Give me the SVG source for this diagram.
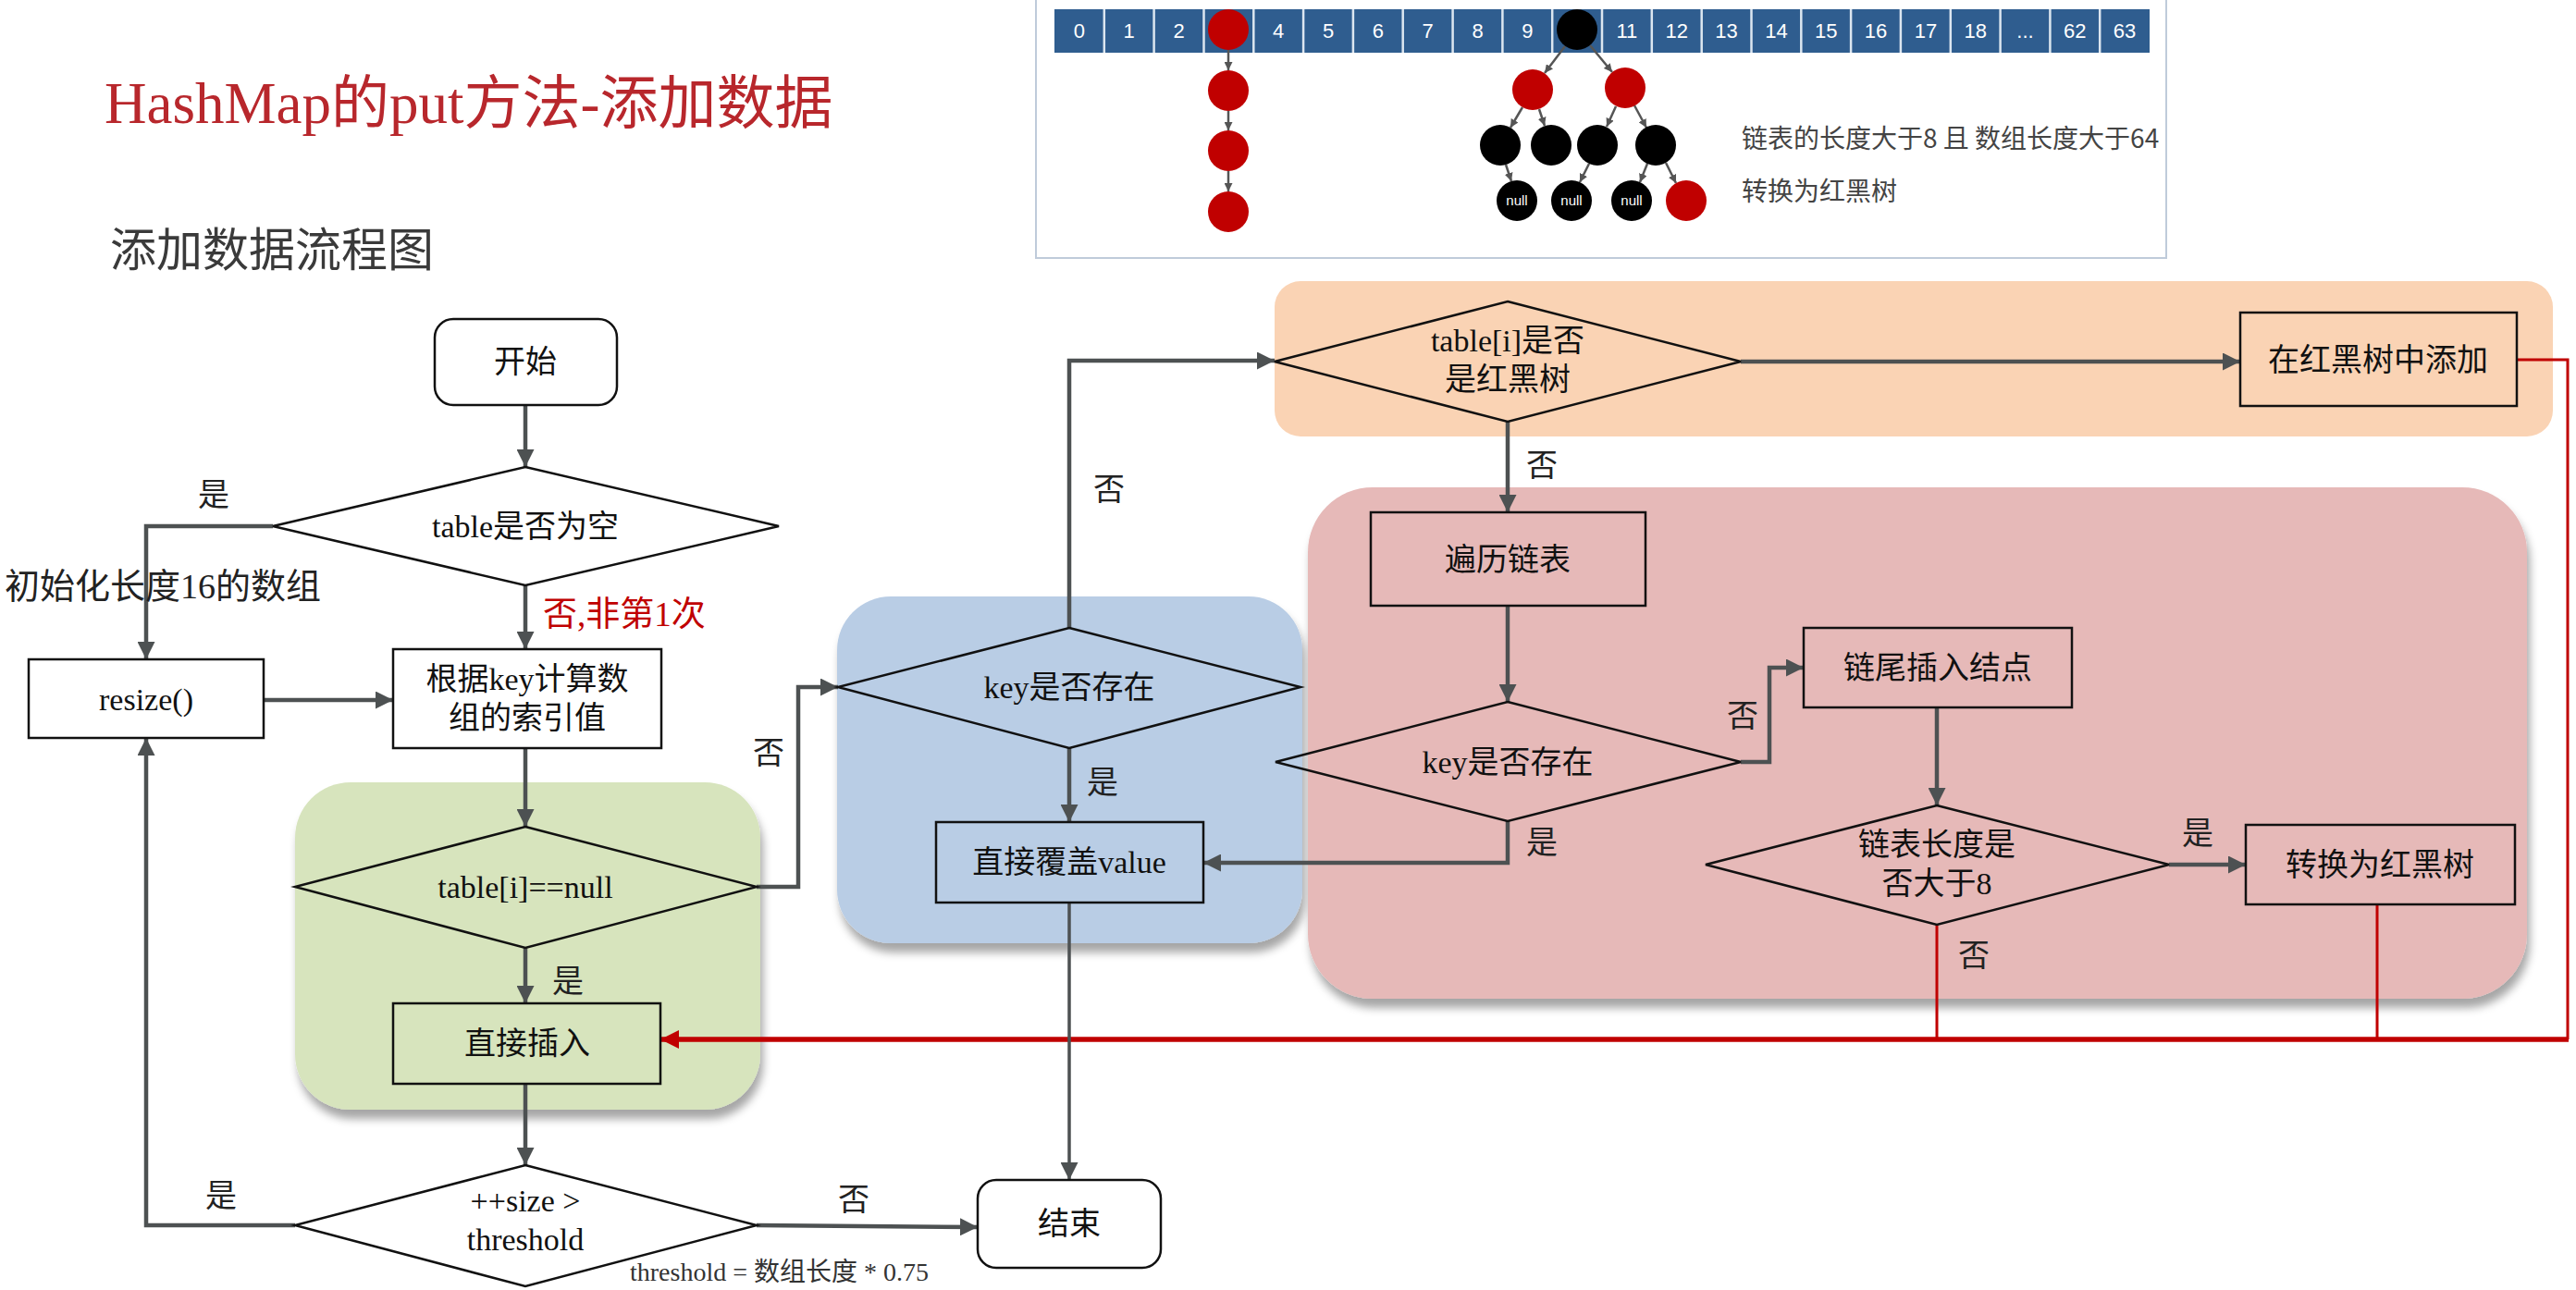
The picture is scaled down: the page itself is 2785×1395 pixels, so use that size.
<svg xmlns="http://www.w3.org/2000/svg" width="2785" height="1395" viewBox="0 0 2785 1395">
<style>
.t{font-family:"Liberation Serif","Noto Sans CJK SC",serif;font-size:34px;fill:#111;text-anchor:middle}
.lb{font-family:"Liberation Serif","Noto Sans CJK SC",serif;font-size:34px;fill:#222;text-anchor:middle}
.box{fill:none;stroke:#111;stroke-width:2.5}
.dia{fill:none;stroke:#111;stroke-width:2.5}
.c{fill:none;stroke:#4D5152;stroke-width:4.5;marker-end:url(#ah)}
.r{fill:none;stroke:#C00000;stroke-width:3}
.num{font-family:"Liberation Sans",Arial,sans-serif;font-size:22px;fill:#fff;text-anchor:middle}
.nl{font-family:"Liberation Sans",Arial,sans-serif;font-size:15px;fill:#fff;text-anchor:middle}
.te{stroke:#555;stroke-width:2.5;marker-end:url(#sa)}
</style>
<defs>
<marker id="ah" viewBox="0 0 10 10" refX="10" refY="5" markerWidth="19" markerHeight="19" markerUnits="userSpaceOnUse" orient="auto"><path d="M0,0 L10,5 L0,10 z" fill="#4D5152"/></marker>
<marker id="rh" viewBox="0 0 10 10" refX="10" refY="5" markerWidth="20" markerHeight="20" markerUnits="userSpaceOnUse" orient="auto"><path d="M0,0 L10,5 L0,10 z" fill="#C00000"/></marker>
<marker id="sa" viewBox="0 0 10 10" refX="10" refY="5" markerWidth="9" markerHeight="9" markerUnits="userSpaceOnUse" orient="auto"><path d="M0,0 L10,5 L0,10 z" fill="#555"/></marker>
<filter id="sh" x="-5%" y="-5%" width="112%" height="118%"><feDropShadow dx="3" dy="10" stdDeviation="5" flood-color="#000" flood-opacity="0.35"/></filter>
</defs>
<rect width="2785" height="1395" fill="#fff"/>

<!-- titles -->
<text x="113" y="133" font-family="Liberation Serif,Noto Sans CJK SC,serif" font-size="63" fill="#B8272C">HashMap的put方法-添加数据</text>
<text x="119" y="288" font-family="Liberation Serif,Noto Sans CJK SC,serif" font-size="50" fill="#3A3A3A">添加数据流程图</text>

<!-- top-right illustration -->
<g id="illustration">
<rect x="1120" y="-2" width="1222" height="281" fill="#fff" stroke="#BFCBDA" stroke-width="2"/>
<rect x="1140" y="10" width="1184" height="47" fill="#2F5D8F"/>
<g stroke="#DCE6F0" stroke-width="2.5">
<line x1="1193.8" y1="10" x2="1193.8" y2="57"/><line x1="1247.6" y1="10" x2="1247.6" y2="57"/><line x1="1301.5" y1="10" x2="1301.5" y2="57"/><line x1="1355.3" y1="10" x2="1355.3" y2="57"/><line x1="1409.1" y1="10" x2="1409.1" y2="57"/><line x1="1462.9" y1="10" x2="1462.9" y2="57"/><line x1="1516.7" y1="10" x2="1516.7" y2="57"/><line x1="1570.6" y1="10" x2="1570.6" y2="57"/><line x1="1624.4" y1="10" x2="1624.4" y2="57"/><line x1="1678.2" y1="10" x2="1678.2" y2="57"/><line x1="1732" y1="10" x2="1732" y2="57"/><line x1="1785.8" y1="10" x2="1785.8" y2="57"/><line x1="1839.7" y1="10" x2="1839.7" y2="57"/><line x1="1893.5" y1="10" x2="1893.5" y2="57"/><line x1="1947.3" y1="10" x2="1947.3" y2="57"/><line x1="2001.1" y1="10" x2="2001.1" y2="57"/><line x1="2054.9" y1="10" x2="2054.9" y2="57"/><line x1="2108.8" y1="10" x2="2108.8" y2="57"/><line x1="2162.6" y1="10" x2="2162.6" y2="57"/><line x1="2216.4" y1="10" x2="2216.4" y2="57"/><line x1="2270.2" y1="10" x2="2270.2" y2="57"/>
</g>
<text class="num" x="1166.9" y="41">0</text><text class="num" x="1220.7" y="41">1</text><text class="num" x="1274.6" y="41">2</text>
<text class="num" x="1382.2" y="41">4</text><text class="num" x="1436" y="41">5</text><text class="num" x="1489.8" y="41">6</text><text class="num" x="1543.7" y="41">7</text><text class="num" x="1597.5" y="41">8</text><text class="num" x="1651.3" y="41">9</text>
<text class="num" x="1758.9" y="41">11</text><text class="num" x="1812.8" y="41">12</text><text class="num" x="1866.6" y="41">13</text><text class="num" x="1920.4" y="41">14</text><text class="num" x="1974.2" y="41">15</text><text class="num" x="2028" y="41">16</text><text class="num" x="2081.9" y="41">17</text><text class="num" x="2135.7" y="41">18</text><text class="num" x="2189.5" y="41">...</text><text class="num" x="2243.3" y="41">62</text><text class="num" x="2297.1" y="41">63</text>
<line class="te" x1="1328" y1="54" x2="1328" y2="76"/>
<line class="te" x1="1328" y1="120" x2="1328" y2="141"/>
<line class="te" x1="1328" y1="185" x2="1328" y2="207"/>
<circle cx="1328" cy="32" r="22" fill="#C00000"/>
<circle cx="1328" cy="98" r="22" fill="#C00000"/>
<circle cx="1328" cy="163" r="22" fill="#C00000"/>
<circle cx="1328" cy="229" r="22" fill="#C00000"/>
<line class="te" x1="1692" y1="50" x2="1670" y2="79"/>
<line class="te" x1="1719" y1="49" x2="1743" y2="78"/>
<line class="te" x1="1646" y1="116" x2="1633" y2="138"/>
<line class="te" x1="1664" y1="118" x2="1670" y2="136"/>
<line class="te" x1="1747" y1="115" x2="1737" y2="137"/>
<line class="te" x1="1767" y1="114" x2="1780" y2="138"/>
<line class="te" x1="1628" y1="178" x2="1634" y2="196"/>
<line class="te" x1="1718" y1="177" x2="1708" y2="197"/>
<line class="te" x1="1781" y1="177" x2="1773" y2="197"/>
<line class="te" x1="1801" y1="176" x2="1812" y2="198"/>
<circle cx="1705" cy="32" r="22" fill="#000"/>
<circle cx="1657" cy="97" r="22" fill="#C00000"/>
<circle cx="1757" cy="95" r="22" fill="#C00000"/>
<circle cx="1622" cy="157" r="22" fill="#000"/>
<circle cx="1677" cy="157" r="22" fill="#000"/>
<circle cx="1727" cy="157" r="22" fill="#000"/>
<circle cx="1790" cy="157" r="22" fill="#000"/>
<circle cx="1640" cy="217" r="22" fill="#000"/>
<circle cx="1699" cy="217" r="22" fill="#000"/>
<circle cx="1764" cy="217" r="22" fill="#000"/>
<circle cx="1823" cy="217" r="22" fill="#C00000"/>
<text class="nl" x="1640" y="222">null</text>
<text class="nl" x="1699" y="222">null</text>
<text class="nl" x="1764" y="222">null</text>
<text x="1883" y="160" font-family="Noto Sans CJK SC,sans-serif" font-size="28" fill="#444">链表的长度大于8 且 数组长度大于64</text>
<text x="1883" y="217" font-family="Noto Sans CJK SC,sans-serif" font-size="28" fill="#444">转换为红黑树</text>
</g>

<!-- panels -->
<g id="panels">
<rect x="319" y="846" width="503" height="354" rx="60" fill="#D7E4BD" filter="url(#sh)"/>
<rect x="905" y="645" width="503" height="375" rx="58" fill="#B9CDE5" filter="url(#sh)"/>
<rect x="1378" y="304" width="1382" height="168" rx="28" fill="#FAD3B4"/>
<rect x="1414" y="527" width="1318" height="553" rx="70" fill="#E6B9B8" filter="url(#sh)"/>
</g>

<!-- connectors -->
<g id="connectors">
<path class="r" d="M2721,389 H2776 V1124"/>
<path class="r" d="M2094,1000 V1124"/>
<path class="r" d="M2570,978 V1124"/>
<path d="M2777,1124 H714" fill="none" stroke="#C00000" stroke-width="5.5" marker-end="url(#rh)"/>
<path class="c" d="M568,438 V505"/>
<path class="c" d="M295,569 H158 V713"/>
<path class="c" d="M568,633 V702"/>
<path class="c" d="M285,757 H425"/>
<path class="c" d="M568,809 V894"/>
<path class="c" d="M568,1025 V1085"/>
<path class="c" d="M818,959 H863 V743 H906"/>
<path class="c" d="M568,1172 V1260"/>
<path class="c" d="M319,1325 H158 V798"/>
<path class="c" d="M818,1325 L1057,1327"/>
<path class="c" d="M1156,679 V390 H1378"/>
<path class="c" d="M1156,809 V889"/>
<path class="c" d="M1156,976 V1276" style="stroke-width:3.5"/>
<path class="c" d="M1882,391 H2422"/>
<path class="c" d="M1630,456 V554"/>
<path class="c" d="M1630,655 V759"/>
<path class="c" d="M1630,888 V933 H1301"/>
<path class="c" d="M1882,824 H1913 V722 H1950"/>
<path class="c" d="M2094,765 V871"/>
<path class="c" d="M2345,935 H2428"/>
</g>

<!-- nodes -->
<g id="start"><rect class="box" x="470" y="345" width="197" height="93" rx="20"/><text class="t" x="568" y="403">开始</text></g>
<g id="tableEmpty"><polygon class="dia" points="568,505 842,569 568,633 295,569"/><text class="t" x="568" y="581">table是否为空</text></g>
<g id="resize"><rect class="box" x="31" y="713" width="254" height="85"/><text class="t" x="158" y="768">resize()</text></g>
<g id="calcIndex"><rect class="box" x="425" y="702" width="290" height="107"/><text class="t" x="570" y="746">根据key计算数</text><text class="t" x="570" y="788">组的索引值</text></g>
<g id="tableNull"><polygon class="dia" points="568,894 818,959 568,1025 319,959"/><text class="t" x="568" y="971">table[i]==null</text></g>
<g id="insert"><rect class="box" x="425" y="1085" width="289" height="87"/><text class="t" x="570" y="1140">直接插入</text></g>
<g id="sizeCheck"><polygon class="dia" points="568,1260 818,1325 568,1391 319,1325"/><text class="t" x="568" y="1310">++size &gt;</text><text class="t" x="568" y="1352">threshold</text></g>
<g id="end"><rect class="box" x="1057" y="1276" width="198" height="95" rx="20"/><text class="t" x="1156" y="1335">结束</text></g>
<g id="keyExists1"><polygon class="dia" points="1156,679 1406,743 1156,809 906,743"/><text class="t" x="1156" y="755">key是否存在</text></g>
<g id="overwrite"><rect class="box" x="1012" y="889" width="289" height="87"/><text class="t" x="1156" y="944">直接覆盖value</text></g>
<g id="isTree"><polygon class="dia" points="1630,326 1882,391 1630,456 1378,391"/><text class="t" x="1630" y="380">table[i]是否</text><text class="t" x="1630" y="422">是红黑树</text></g>
<g id="treeAdd"><rect class="box" x="2422" y="338" width="299" height="101"/><text class="t" x="2571" y="401">在红黑树中添加</text></g>
<g id="traverse"><rect class="box" x="1482" y="554" width="297" height="101"/><text class="t" x="1630" y="617">遍历链表</text></g>
<g id="keyExists2"><polygon class="dia" points="1630,759 1882,824 1630,888 1379,824"/><text class="t" x="1630" y="836">key是否存在</text></g>
<g id="tailInsert"><rect class="box" x="1950" y="679" width="290" height="86"/><text class="t" x="2095" y="734">链尾插入结点</text></g>
<g id="lenCheck"><polygon class="dia" points="2094,871 2345,935 2094,1000 1844,935"/><text class="t" x="2094" y="925">链表长度是</text><text class="t" x="2094" y="967">否大于8</text></g>
<g id="toTree"><rect class="box" x="2428" y="892" width="291" height="86"/><text class="t" x="2573" y="947">转换为红黑树</text></g>

<!-- labels -->
<g id="labels">
<text class="lb" x="231" y="547">是</text>
<text x="587" y="677" font-family="Liberation Serif,Noto Sans CJK SC,serif" font-size="37" fill="#C00000">否,非第1次</text>
<text x="5" y="647" font-family="Liberation Serif,Noto Sans CJK SC,serif" font-size="38" fill="#222">初始化长度16的数组</text>
<text class="lb" x="831" y="826">否</text>
<text class="lb" x="614" y="1073">是</text>
<text class="lb" x="239" y="1305">是</text>
<text class="lb" x="923" y="1309">否</text>
<text x="681" y="1385" font-family="Liberation Serif,Noto Sans CJK SC,serif" font-size="28" fill="#333">threshold = 数组长度 * 0.75</text>
<text class="lb" x="1199" y="541">否</text>
<text class="lb" x="1192" y="858">是</text>
<text class="lb" x="1667" y="515">否</text>
<text class="lb" x="1667" y="923">是</text>
<text class="lb" x="1884" y="786">否</text>
<text class="lb" x="2376" y="913">是</text>
<text class="lb" x="2134" y="1045">否</text>
</g>
</svg>
